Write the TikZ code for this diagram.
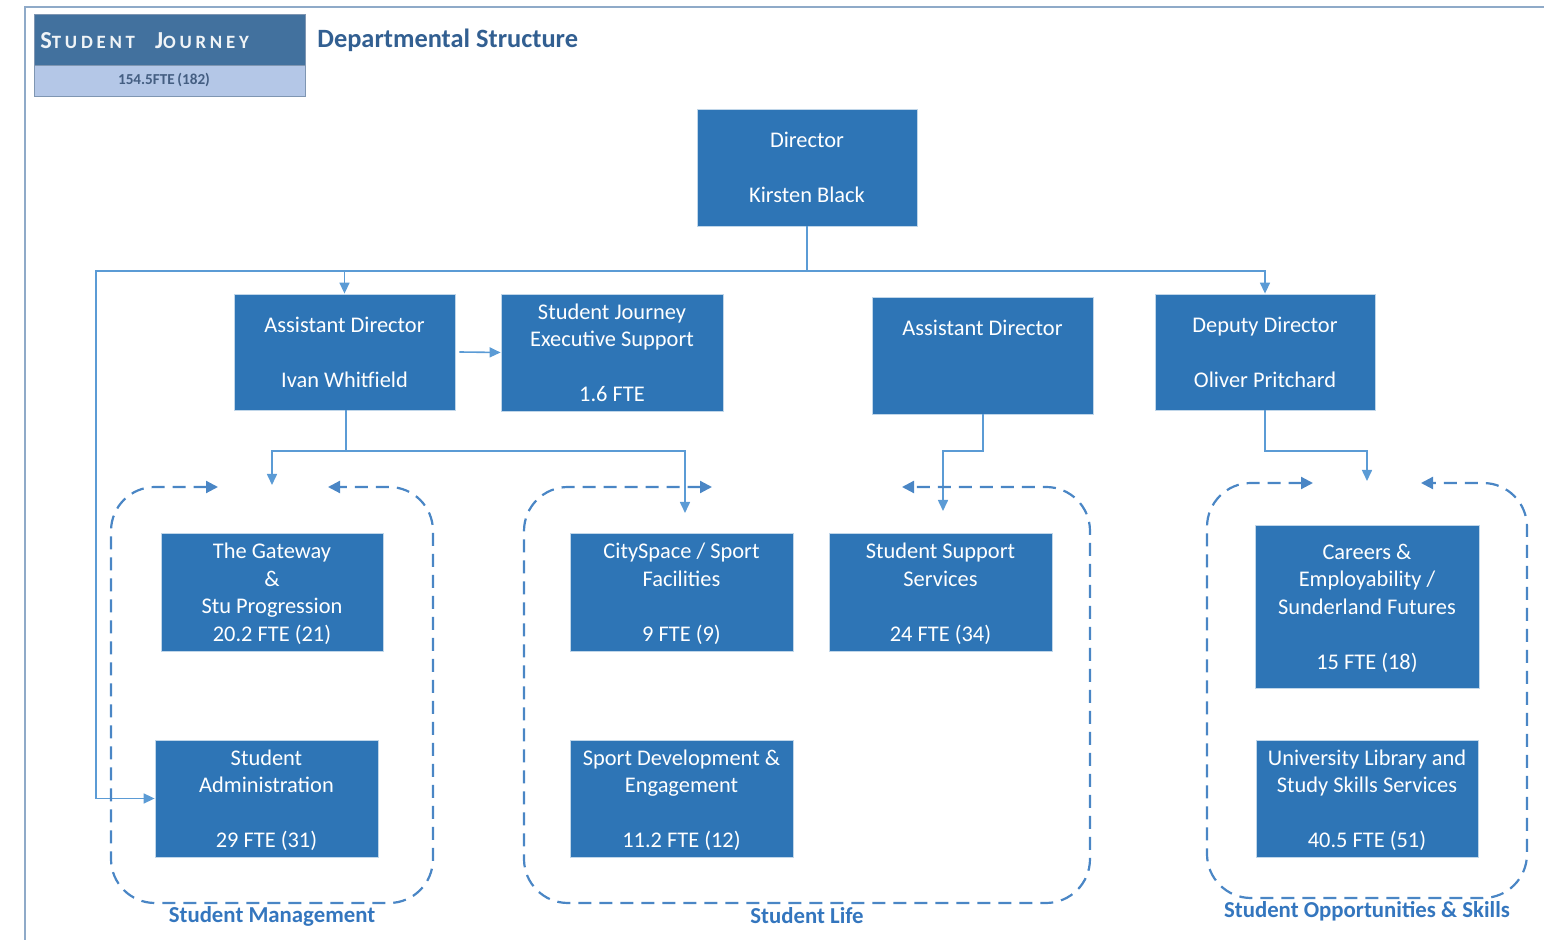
\documentclass[tikz,border=0pt]{standalone}
\usepackage{fontspec}
\setmainfont{Carlito}
\newfontfamily\spacedfont[LetterSpace=20]{Carlito}
\usetikzlibrary{arrows.meta}
\definecolor{boxblue}{RGB}{46,117,182}
\definecolor{linkblue}{RGB}{91,155,213}
\definecolor{dashblue}{RGB}{74,134,197}
\definecolor{labelblue}{RGB}{52,118,190}
\definecolor{titleblue}{RGB}{50,95,145}
\definecolor{framegray}{RGB}{143,170,200}
\definecolor{hdrdark}{RGB}{66,113,158}
\definecolor{hdrlight}{RGB}{180,199,231}
\definecolor{hdrtext}{RGB}{68,94,130}
\definecolor{hdrborder}{RGB}{127,150,178}
\begin{document}
\begin{tikzpicture}[x=0.5pt,y=-0.5pt,
  box/.style={fill=boxblue, draw=white!70!boxblue, line width=0.4pt, text=white, align=center,
    font=\fontsize{11.2}{13.75}\selectfont, inner sep=0pt, text depth=0pt},
  conn/.style={draw=linkblue, line width=0.8pt, -{Triangle[length=5.5pt,width=5pt]}},
  plain/.style={draw=linkblue, line width=0.8pt},
  grp/.style={draw=dashblue, line width=1.1pt, dash pattern=on 6.5pt off 4pt, rounded corners=22pt,
    {Triangle[length=6pt,width=6pt]}-{Triangle[length=6pt,width=6pt]}},
  grplabel/.style={text=labelblue, font=\bfseries\fontsize{11.4}{13}\selectfont, inner sep=0pt}]
\useasboundingbox (0,0) rectangle (1544,940);
% frame
\draw[framegray, line width=1pt] (25,940) -- (25,7) -- (1544,7);
% header
\node[fill=hdrdark, draw=hdrborder, line width=0.5pt, minimum width=135.5pt, minimum height=25.5pt, inner sep=0pt] (hdr) at (169.5,40.5) {};
\node[fill=hdrlight, draw=hdrborder, line width=0.5pt, minimum width=135.5pt, minimum height=15.5pt, inner sep=0pt] (hdrfte) at (169.5,81.5) {};
\node[inner sep=0pt, text=hdrtext, font=\bfseries\fontsize{7.6}{8}\selectfont] (ftetext) at (164,80.5) {154.5FTE\,(182)};
\node[anchor=west, inner sep=0pt, text=white!92!hdrdark] (hdrtitle) at (40,41)
  {\spacedfont\bfseries\fontsize{12.2}{13}\selectfont S\fontsize{9.4}{10}\selectfont TUDENT\hspace{10pt}\fontsize{12.2}{13}\selectfont J\fontsize{9.4}{10}\selectfont OURNEY};
\node[anchor=west, inner sep=0pt, text=titleblue, font=\bfseries\fontsize{13.2}{15}\selectfont] (dtitle) at (317,40) {Departmental Structure};
% boxes
\node[box, minimum width=110pt, minimum height=58.5pt] (dir) at (807,167.5) {Director\\~\\Kirsten Black};
\node[box, minimum width=110.5pt, minimum height=58pt] (adI) at (344.5,352) {Assistant Director\\~\\Ivan Whitfield};
\node[box, minimum width=111pt, minimum height=58.5pt] (sje) at (612,352.5) {Student Journey\\Executive Support\\~\\1.6 FTE};
\node[box, minimum width=110.5pt, minimum height=58.5pt] (ad2) at (982.5,355.5) {Assistant Director\\~\\~};
\node[box, minimum width=110pt, minimum height=58pt] (dep) at (1265,352) {Deputy Director\\~\\Oliver Pritchard};
\node[box, minimum width=111pt, minimum height=59pt] (gate) at (272,592) {The Gateway\\\&\\Stu Progression\\20.2 FTE (21)};
\node[box, minimum width=111.5pt, minimum height=59pt] (city) at (681.5,592) {CitySpace / Sport\\Facilities\\~\\9 FTE (9)};
\node[box, minimum width=111.5pt, minimum height=59pt] (sss) at (940.5,592) {Student Support\\Services\\~\\24 FTE (34)};
\node[box, minimum width=112pt, minimum height=81.5pt] (car) at (1367,606.5) {Careers \&\\Employability /\\Sunderland Futures\\~\\15 FTE (18)};
\node[box, minimum width=111.5pt, minimum height=58.5pt] (adm) at (266.5,798.5) {Student\\Administration\\~\\29 FTE (31)};
\node[box, minimum width=111.5pt, minimum height=58.5pt] (spd) at (681.5,798.5) {Sport Development \&\\Engagement\\~\\11.2 FTE (12)};
\node[box, minimum width=111pt, minimum height=58.5pt] (lib) at (1367,798.5) {University Library and\\Study Skills Services\\~\\40.5 FTE (51)};
% connectors
\coordinate (bus) at (807,271);
\coordinate (busL) at (96,271);
\draw[plain] (dir.south) -- (bus);
\draw[conn] (bus) -| (adI.north);
\draw[conn] (bus) -| (dep.north);
\draw[conn] (bus) -- (busL) |- (adm.west);
\draw[conn] (adI.east) ++(2pt,0) -- (sje.west);
\coordinate (j1) at (346,451);
\coordinate (e1) at (272,485);
\coordinate (e2) at (685,513);
\draw[conn] (adI.south -| j1) -- (j1) -| (e1);
\draw[conn] (j1) -| (e2);
\coordinate (j2) at (983,451);
\coordinate (e3) at (943,511);
\draw[conn] (ad2.south -| j2) -- (j2) -| (e3);
\coordinate (j3) at (1265,451);
\coordinate (e4) at (1367,481);
\draw[conn] (dep.south) -- (j3) -| (e4);
% groups
\draw[grp] (218,487) -- (111,487) -- (111,903) -- (433,903) -- (433,487) -- (328,487);
\draw[grp] (712,487) -- (524,487) -- (524,903) -- (1090,903) -- (1090,487) -- (902,487);
\draw[grp] (1313,483) -- (1207,483) -- (1207,898) -- (1527,898) -- (1527,483) -- (1421,483);
\node[grplabel] (lsm) at (272,916) {Student Management};
\node[grplabel] (lsl) at (807,916) {Student Life};
\node[grplabel] (lso) at (1367,911) {Student Opportunities \& Skills};
\end{tikzpicture}
\end{document}
